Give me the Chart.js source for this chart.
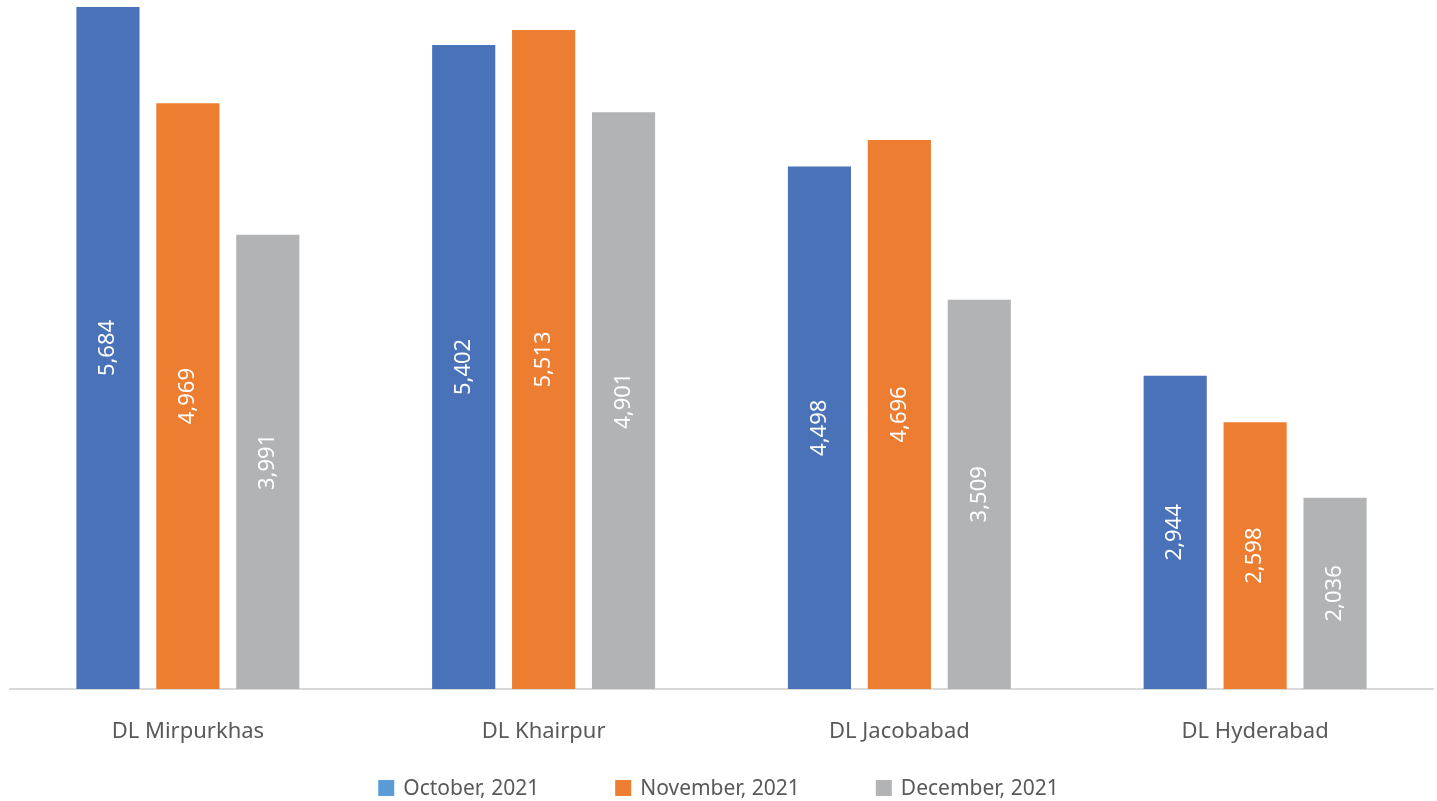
<!DOCTYPE html>
<html>
<head>
<meta charset="utf-8">
<script src="https://cdn.jsdelivr.net/npm/chart.js@4/dist/chart.umd.min.js"></script>
<style>
  html, body { margin: 0; padding: 0; background: #fff; }
  #wrap { width: 1437px; height: 801px; }
</style>
</head>
<body>
<div id="wrap"><canvas id="barChart"></canvas></div>
<script>
const categories = ['DL Mirpurkhas', 'DL Khairpur', 'DL Jacobabad', 'DL Hyderabad'];
const seriesNames = ['October, 2021', 'November, 2021', 'December, 2021'];
const october = [5684, 5402, 4498, 2944];
const november = [4969, 5513, 4696, 2598];
const december = [3991, 4901, 3509, 2036];

const barColors = ['#4A72B8', '#ED7D31', '#B2B3B4'];
const legendColors = ['#5B9BD5', '#ED7D31', '#B2B3B4'];
const FONT = "'Noto Sans', sans-serif";

// white rotated value labels in the middle of each bar
const barLabels = {
    id: 'barLabels',
    afterDatasetsDraw(chart) {
        const ctx = chart.ctx;
        const bottom = chart.chartArea.bottom;
        ctx.save();
        ctx.fillStyle = '#ffffff';
        ctx.font = '22px ' + FONT;
        ctx.textAlign = 'center';
        ctx.textBaseline = 'middle';
        chart.data.datasets.forEach(function (ds, i) {
            chart.getDatasetMeta(i).data.forEach(function (bar, j) {
                const y = (bar.y + Math.min(bar.base, bottom)) / 2;
                ctx.save();
                ctx.translate(bar.x, y);
                ctx.rotate(-Math.PI / 2);
                ctx.fillText(ds.data[j].toLocaleString('en-US'), 0, 0);
                ctx.restore();
            });
        });
        ctx.restore();
    }
};

// legend drawn by hand so the spacing matches the original
const bottomLegend = {
    id: 'bottomLegend',
    afterDraw(chart) {
        const ctx = chart.ctx;
        const box = 16, gap = 9, spacing = 76;
        ctx.save();
        ctx.font = '21px ' + FONT;
        ctx.textBaseline = 'middle';
        const widths = seriesNames.map(function (n) { return ctx.measureText(n).width; });
        let total = widths.reduce(function (a, w) { return a + box + gap + w; }, 0) + spacing * (seriesNames.length - 1);
        let x = chart.width / 2 - total / 2;
        const y = 788;
        seriesNames.forEach(function (name, i) {
            ctx.fillStyle = legendColors[i];
            ctx.fillRect(x, y - box / 2, box, box);
            ctx.fillStyle = '#595959';
            ctx.fillText(name, x + box + gap, y + 1);
            x += box + gap + widths[i] + spacing;
        });
        ctx.restore();
    }
};

document.addEventListener('DOMContentLoaded', function () {
    let ctx = document.getElementById('barChart').getContext('2d');
    new Chart(ctx, {
        type: 'bar',
        data: {
            labels: categories,
            datasets: [october, november, december].map(function (d, i) {
                return {
                    label: seriesNames[i],
                    data: d,
                    backgroundColor: barColors[i],
                    barPercentage: 0.79,
                    categoryPercentage: 0.674
                };
            })
        },
        options: {
            responsive: true,
            maintainAspectRatio: false,
            animation: false,
            layout: { padding: { left: 10, right: 4, top: 0, bottom: 38 } },
            plugins: {
                tooltip: { enabled: false },
                legend: { display: false }
            },
            scales: {
                x: {
                    grid: { display: false, drawTicks: false },
                    border: { color: '#D9D9D9', width: 2 },
                    ticks: {
                        font: { family: FONT, size: 22 },
                        color: '#595959',
                        padding: 30
                    },
                    afterFit: function (scale) { scale.height = 74; }
                },
                y: {
                    display: false,
                    min: 615,
                    max: 5736
                }
            }
        },
        plugins: [barLabels, bottomLegend]
    });
});
</script>
</body>
</html>
